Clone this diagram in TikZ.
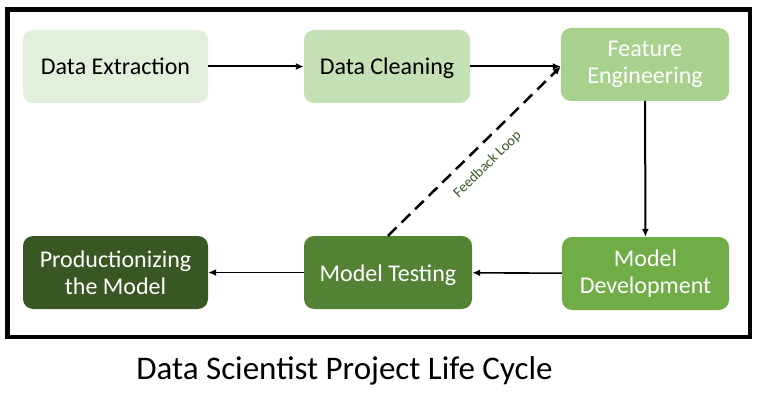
\documentclass[tikz,border=0pt]{standalone}
\usepackage{fontspec}
\setmainfont{Carlito}
\usetikzlibrary{arrows.meta}

\definecolor{gOne}{HTML}{E2EFDA}
\definecolor{gTwo}{HTML}{C5E0B4}
\definecolor{gThree}{HTML}{A9D18E}
\definecolor{gFour}{HTML}{70AD47}
\definecolor{gFive}{HTML}{548235}
\definecolor{gSix}{HTML}{385723}

\begin{document}
\begin{tikzpicture}[
  x=1pt,y=-1pt,
  stage/.style={rounded corners=10pt,minimum height=73pt,align=center,
    font=\fontsize{24}{27}\selectfont,inner sep=2pt},
  oneline/.style={text height=17pt,text depth=0pt},
  flow/.style={-{Latex[length=8pt,width=7pt]},line width=2pt},
  lbl/.style={font=\fontsize{14.5}{16}\selectfont,text=gSix}
]
\useasboundingbox (0,0) rectangle (762,403);
\draw[line width=4.5pt] (7.5,9.5) rectangle (750,337);

\node[stage,oneline,fill=gOne,minimum width=185pt] (extract) at (115.5,66.5) {Data Extraction};
\node[stage,oneline,fill=gTwo,minimum width=166pt] (clean) at (387,66.5) {Data Cleaning};
\node[stage,fill=gThree,minimum width=168pt,text=white] (feature) at (645,64.5) {Feature\\Engineering};
\node[stage,fill=gFour,minimum width=167pt,text=white] (develop) at (645.5,273.5) {Model\\Development};
\node[stage,oneline,fill=gFive,minimum width=168pt,text=white] (testing) at (388,272.5) {Model Testing};
\node[stage,fill=gSix,minimum width=185pt,text=white] (product) at (115.5,272.5) {Productionizing\\the Model};

% main flow
\draw[flow] (extract) -- (clean);
\draw[flow] (clean.east) -- (feature.west |- clean.east);
\draw[flow] (feature) -- (develop);
\draw[flow,line width=1.6pt] (develop) -- (testing);
\draw[flow,line width=1.6pt] (testing) -- (product);

% feedback
\draw[-{Latex[length=8pt,width=7pt]},line width=2.5pt,dash pattern=on 12pt off 7pt]
  (testing.north) -- (feature.west |- clean.east)
  node[lbl,midway,sloped,below=8pt] {Feedback Loop};

\node[font=\fontsize{33}{38}\selectfont] (title) at (344.5,371) {Data Scientist Project Life Cycle};
\end{tikzpicture}
\end{document}
